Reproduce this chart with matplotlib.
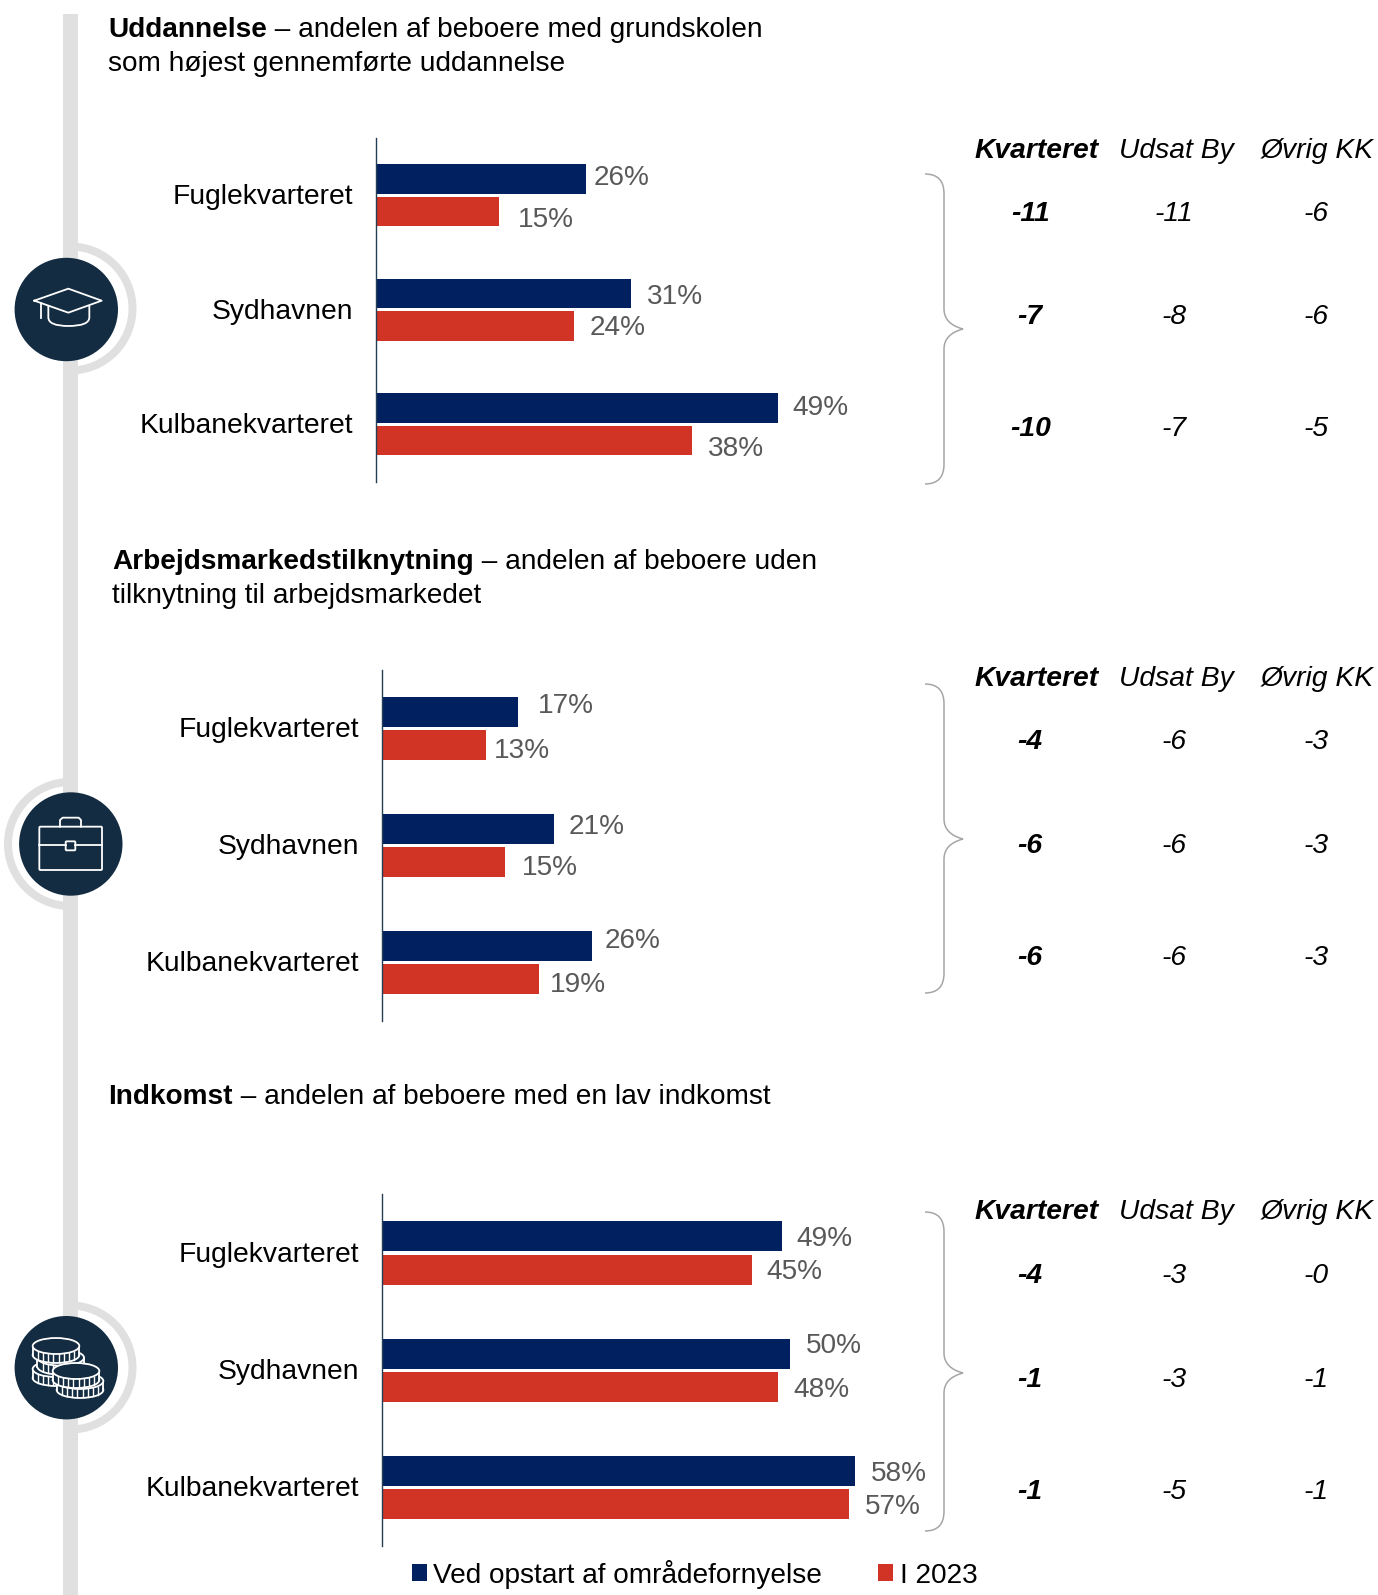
import matplotlib
matplotlib.use("Agg")
import matplotlib.pyplot as plt
from matplotlib.patches import Circle, Wedge, PathPatch, Rectangle, FancyBboxPatch, Ellipse
from matplotlib.path import Path
from matplotlib.transforms import ScaledTranslation

plt.rcParams['font.family'] = ['Liberation Sans', 'DejaVu Sans']

# ---------- data ----------
quarters = ["Fuglekvarteret", "Sydhavnen", "Kulbanekvarteret"]
series_names = ["Ved opstart af områdefornyelse", "I 2023"]

edu_start = [25.6, 31.1, 49.0]
edu_2023 = [15.0, 24.1, 38.5]
job_start = [16.6, 20.9, 25.6]
job_2023 = [12.6, 15.0, 19.1]
inc_start = [48.8, 49.8, 57.7]
inc_2023 = [45.1, 48.3, 57.0]

edu_start_lbl = ["26%", "31%", "49%"]
edu_2023_lbl = ["15%", "24%", "38%"]
job_start_lbl = ["17%", "21%", "26%"]
job_2023_lbl = ["13%", "15%", "19%"]
inc_start_lbl = ["49%", "50%", "58%"]
inc_2023_lbl = ["45%", "48%", "57%"]

table_heads = ["Kvarteret", "Udsat By", "Øvrig KK"]
edu_kvarteret = ["-11", "-7", "-10"]
edu_udsat = ["-11", "-8", "-7"]
edu_ovrig = ["-6", "-6", "-5"]
job_kvarteret = ["-4", "-6", "-6"]
job_udsat = ["-6", "-6", "-6"]
job_ovrig = ["-3", "-3", "-3"]
inc_kvarteret = ["-4", "-1", "-1"]
inc_udsat = ["-3", "-3", "-5"]
inc_ovrig = ["-0", "-1", "-1"]

title_bold = ["Uddannelse", "Arbejdsmarkedstilknytning", "Indkomst"]
title_rest = [[" – andelen af beboere med grundskolen", "som højest gennemførte uddannelse"],
              [" – andelen af beboere uden", "tilknytning til arbejdsmarkedet"],
              [" – andelen af beboere med en lav indkomst"]]

# ---------- style / layout ----------
W, H = 1378, 1595
K = 1378 / 1355
NAVY, RED, GREY_TXT = "#002060", "#D13425", "#595959"
BAND, DARK, BRACE = "#E0E0E0", "#132C42", "#A6A6A6"
FS = 20.2
FS_TICK = 20.3
FS_TABLE = 20.3

fig = plt.figure(figsize=(W / 100, H / 100), dpi=100, facecolor="white")
bg = fig.add_axes([0, 0, 1, 1], zorder=0)
bg.set_xlim(0, W)
bg.set_ylim(H, 0)
bg.axis("off")

# vertical band
bg.add_patch(Rectangle((63, 14), 15, H - 14, fc=BAND, ec="none", zorder=1))


def badge(cx, cy, ring_cx, ring_cy, side):
    t1, t2 = (-90, 90) if side == "right" else (90, 270)
    bg.add_patch(Wedge((ring_cx, ring_cy), 66, t1, t2, width=8, fc=BAND, ec="none", zorder=1))
    bg.add_patch(Circle((cx, cy), 51.7, fc=DARK, ec="none", zorder=2))


badge(66.3, 309.5, 70.5, 308.5, "right")
badge(70.8, 844, 70, 844, "left")
badge(66.3, 1367.7, 70.5, 1367.5, "right")

LW = 1.3


def zp(x0, y0, pts, closed=False):
    xs = [x0 + p[0] / 3 for p in pts]
    ys = [y0 + p[1] / 3 for p in pts]
    if closed:
        xs.append(xs[0])
        ys.append(ys[0])
    bg.plot(xs, ys, color="white", lw=LW, zorder=4, solid_joinstyle="round")


# graduation cap
ox, oy = 0, 230
zp(ox, oy, [(103, 212), (205, 176), (305, 212), (205, 248)], closed=True)
zp(ox, oy, [(122, 220), (122, 265)])
bg.add_patch(PathPatch(Path([(145 / 3, oy + 228 / 3), (145 / 3, oy + 262 / 3), (145 / 3, oy + 288 / 3), (205 / 3, oy + 288 / 3),
                             (268 / 3, oy + 288 / 3), (268 / 3, oy + 262 / 3), (268 / 3, oy + 228 / 3)],
                            [Path.MOVETO, Path.LINETO, Path.CURVE3, Path.CURVE3, Path.CURVE3, Path.CURVE3, Path.LINETO]),
                       fc="none", ec="white", lw=LW, zorder=4))

# briefcase
ox, oy = 0, 770
bg.add_patch(FancyBboxPatch((118 / 3 + 1, oy + 170 / 3 + 1), 188 / 3 - 2, 130 / 3 - 2, boxstyle="round,pad=1",
                            fc="none", ec="white", lw=LW, zorder=4))
zp(ox, oy, [(180, 170), (180, 150), (188, 143), (236, 143), (243, 150), (243, 170)])
zp(ox, oy, [(118, 224), (197, 224)])
zp(ox, oy, [(226, 224), (306, 224)])
bg.add_patch(FancyBboxPatch((197 / 3 + 1, oy + 214 / 3 + 1), 29 / 3 - 2, 27 / 3 - 2, boxstyle="round,pad=1",
                            fc="none", ec="white", lw=LW, zorder=4))

# coins
ox, oy = 0, 1295


def coin(cx, cy, z):
    rx, ry, h = 70 / 3, 24 / 3, 27 / 3
    x, y = cx / 3, oy + cy / 3
    bg.add_patch(Ellipse((x, y + h), 2 * rx, 2 * ry, fc=DARK, ec="white", lw=LW, zorder=z))
    bg.add_patch(Rectangle((x - rx, y), 2 * rx, h, fc=DARK, ec="none", zorder=z))
    bg.plot([x - rx, x - rx], [y, y + h], color="white", lw=LW, zorder=z)
    bg.plot([x + rx, x + rx], [y, y + h], color="white", lw=LW, zorder=z)
    for i in range(1, 9):
        tx = i / 9
        dx = rx * (2 * tx - 1)
        yb = ry * (1 - (2 * tx - 1) ** 2) ** 0.5
        bg.plot([x + dx, x + dx], [y + yb + 0.5, y + h + yb - 0.5], color="white", lw=1.0, zorder=z)
    bg.add_patch(Ellipse((x, y), 2 * rx, 2 * ry, fc=DARK, ec="white", lw=LW, zorder=z))


coin(168, 222, 4.1)
coin(182, 188, 4.2)
coin(168, 153, 4.3)
coin(240, 258, 4.4)
coin(228, 228, 4.5)


def brace(y0, ym, y1):
    x0, xv, xt = 925, 944, 963
    r = 14
    v = [(x0, y0), (xv, y0), (xv, y0 + r * 1.4), (xv, ym - 20), (xv, ym - 5), (xt, ym), (xv, ym + 5), (xv, ym + 20),
         (xv, y1 - r * 1.4), (xv, y1), (x0, y1)]
    c = [Path.MOVETO, Path.CURVE3, Path.CURVE3, Path.LINETO, Path.CURVE3, Path.CURVE3, Path.CURVE3, Path.CURVE3,
         Path.LINETO, Path.CURVE3, Path.CURVE3]
    bg.add_patch(PathPatch(Path(v, c), fc="none", ec=BRACE, lw=1.1, zorder=3))


def bar_panel(top, bottom, spine_x, start, end, start_lbl, end_lbl, offs, tick_shift):
    ax = fig.add_axes([spine_x * K / W, 1 - bottom * K / H, 985 / W, (bottom - top) * K / H], zorder=2)
    ax.patch.set_alpha(0)
    scale = 8.19
    ax.set_xlim(0, 985 / scale)
    ax.set_ylim(2.5, -0.5)
    h, d = 0.257, 0.142
    pos = list(range(len(quarters)))
    b1 = ax.barh([p - d for p in pos], start, height=h, color=NAVY)
    b2 = ax.barh([p + d for p in pos], end, height=h, color=RED)
    ax.set_yticks(pos, quarters, fontsize=FS_TICK, color="black")
    ax.tick_params(axis="y", length=0, pad=16.8)
    shift = ScaledTranslation(0, tick_shift / 100, fig.dpi_scale_trans)
    for lab in ax.get_yticklabels():
        lab.set_transform(lab.get_transform() + shift)
    ax.set_xticks([])
    for s in ["top", "right", "bottom"]:
        ax.spines[s].set_visible(False)
    ax.spines["left"].set_color("#243F55")
    ax.spines["left"].set_linewidth(1.0)
    k = 0
    for i in pos:
        for vals, lbls, dd in ((start, start_lbl, -d), (end, end_lbl, d)):
            gx, gy = offs[k]
            k += 1
            ax.annotate(lbls[i], (vals[i], i + dd), xytext=(gx * K, -(gy + 2) * K), textcoords="offset pixels",
                        ha="left", va="center", fontsize=FS, color=GREY_TXT)
    return ax, b1, b2


def table(head_y, row_ys, col1, col2, col3):
    xs = [1013, 1154.5, 1294]
    head_x = [958.5, 1100.5, 1239.5]
    for hx, t, w in zip(head_x, table_heads, ["bold", "normal", "normal"]):
        bg.text(hx * K, (head_y + 2.2) * K, t, style="italic", weight=w, fontsize=FS_TABLE, ha="left", va="center",
                color="black", zorder=5)
    for x, col, w in zip(xs, (col1, col2, col3), ["bold", "normal", "normal"]):
        for y, t in zip(row_ys, col):
            bg.text(x * K, (y + 2.5) * K, t, style="italic", weight=w, fontsize=FS_TABLE, ha="center", va="center",
                    color="black", zorder=5)


edu_offs = [(8, -2.5), (18.5, 6.5), (15.5, 1.5), (15.5, .5), (15, -1.5), (16, 6.5)]
job_offs = [(19, -7.5), (8, 3.5), (15, -4), (16.5, 3.5), (12.5, -6.5), (11, 3.5)]
inc_offs = [(14, .5), (14.5, .5), (15, -9.5), (15, .5), (15.5, .5), (15.5, .5)]

bar_panel(135.5, 473.5, 370, edu_start, edu_2023, edu_start_lbl, edu_2023_lbl, edu_offs, 0.8)
bar_panel(659, 1004, 376, job_start, job_2023, job_start_lbl, job_2023_lbl, job_offs, 2)
_, lb1, lb2 = bar_panel(1174.5, 1520.5, 376, inc_start, inc_2023, inc_start_lbl, inc_2023_lbl, inc_offs, 1.2)

table(146, [207.5, 309.5, 419.5], edu_kvarteret, edu_udsat, edu_ovrig)
table(665, [727.5, 829.5, 939.5], job_kvarteret, job_udsat, job_ovrig)
table(1190, [1252.5, 1354.5, 1464.5], inc_kvarteret, inc_udsat, inc_ovrig)

brace(174, 329, 484)
brace(684, 839, 993)
brace(1212, 1373, 1531)

# titles
renderer = fig.canvas.get_renderer()
for bold, rest, x, ys in zip(title_bold, title_rest, (106.5, 110.5, 106.5), ((27, 60), (550, 583), (1076,))):
    t = bg.text(x * K, ys[0] * K, bold, weight="bold", fontsize=FS, ha="left", va="center_baseline", color="black", zorder=5)
    w = t.get_window_extent(renderer).width
    bg.text(x * K + w, ys[0] * K, rest[0], fontsize=FS, ha="left", va="center_baseline", color="black", zorder=5)
    if len(rest) > 1:
        bg.text(x * K, ys[1] * K, rest[1], fontsize=FS, ha="left", va="center_baseline", color="black", zorder=5)

# legend
fig.legend([lb1, lb2], series_names, ncol=2, frameon=False, fontsize=FS, loc="lower left",
           bbox_to_anchor=(405 * K / W, 1 - 1562 * K / H), borderpad=0, borderaxespad=0,
           handlelength=0.54, handleheight=0.54, handletextpad=0.22, columnspacing=2.0, labelcolor="black")

fig.savefig("out.png", dpi=100, facecolor="white")
